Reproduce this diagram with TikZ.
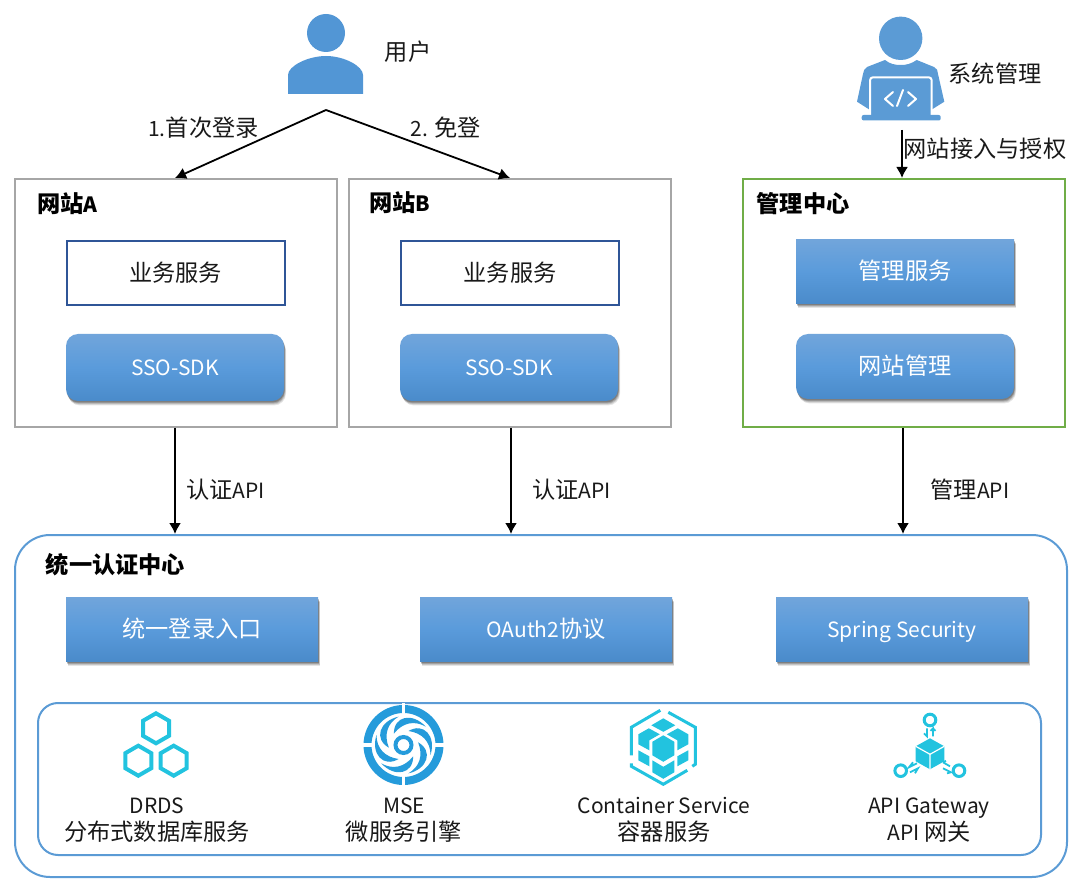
\documentclass[tikz,border=0pt]{standalone}
\usepackage{fontspec}
\setmainfont{Noto Sans CJK SC}
\newfontfamily\cjkf{Noto Sans CJK SC}[Scale=1.105]
\newcommand\cj[1]{{\cjkf #1}}
\usetikzlibrary{arrows.meta,shadows}
\definecolor{iconblue}{HTML}{5296D5}
\definecolor{cyanicon}{HTML}{22C3DF}
\definecolor{mseblue}{HTML}{259BDB}
\definecolor{ringblue}{HTML}{5B9BD5}
\definecolor{sitegray}{HTML}{A6A6A6}
\definecolor{mgrgreen}{HTML}{70AD47}
\definecolor{plainblue}{HTML}{2F5597}
\definecolor{gtop}{HTML}{71A5DB}
\definecolor{gmid}{HTML}{5A9BDB}
\definecolor{gbot}{HTML}{4A8BCA}
\tikzset{
  x=1pt,y=-1pt,
  txt/.style={font=\fontsize{21}{26}\selectfont,inner sep=0pt,text=black!90},
  boldtxt/.style={font=\fontsize{21}{26}\selectfont\bfseries,inner sep=0pt,text=black},
  site/.style={draw=sitegray,line width=2pt,minimum width=322pt,minimum height=248pt,inner sep=0pt},
  mgr/.style={draw=mgrgreen,line width=2pt,minimum width=322pt,minimum height=248pt,inner sep=0pt},
  plain/.style={draw=plainblue,line width=2pt,minimum width=218pt,minimum height=64pt},
  softshadow/.style={
    general shadow={shadow xshift=2pt,shadow yshift=-4.5pt,opacity=.10,fill=black},
    general shadow={shadow xshift=1.5pt,shadow yshift=-3.5pt,opacity=.14,fill=black},
    general shadow={shadow xshift=1pt,shadow yshift=-2.5pt,opacity=.18,fill=black},
    general shadow={shadow xshift=.5pt,shadow yshift=-1.5pt,opacity=.22,fill=black}},
  gbase/.style={softshadow,top color=gtop,bottom color=gbot,middle color=gmid,text=white,
    font=\fontsize{21}{26}\selectfont,text height=20pt,text depth=4pt,inner ysep=0pt},
  arr/.style={line width=1.8pt,-{Latex[length=11pt,width=12pt]}},
}
\begin{document}
\begin{tikzpicture}
\useasboundingbox (0,0) rectangle (1082,890);
% containers
\node[site] (siteA) at (176,303) {};
\node[site] (siteB) at (510,303) {};
\node[mgr] (mgrc) at (904,303) {};
\node[draw=ringblue,line width=2pt,rounded corners=35pt,minimum width=1052pt,minimum height=342pt] (sso) at (541,706) {};
\node[draw=ringblue,line width=2pt,rounded corners=20pt,minimum width=1003pt,minimum height=152pt] (infra) at (539.5,779) {};
% labels
\node[boldtxt] (lA) at (67.5,204) {\cj{网站}A};
\node[boldtxt] (lB) at (400,203) {\cj{网站}B};
\node[boldtxt] (lM) at (803,204) {\cj{管理中心}};
\node[boldtxt] (lS) at (115.5,565) {\cj{统一认证中心}};
% inner boxes
\node[plain,txt] (bizA) at (175.5,273) {\cj{业务服务}};
\node[plain,txt] (bizB) at (510,273) {\cj{业务服务}};
\node[gbase,rounded corners=12pt,minimum width=218pt,minimum height=67pt] (ssoA) at (175,367.5) {SSO-SDK};
\node[gbase,rounded corners=12pt,minimum width=218pt,minimum height=67pt] (ssoB) at (509,367.5) {SSO-SDK};
\node[gbase,minimum width=218pt,minimum height=64pt] (ms) at (905,272) {\cj{管理服务}};
\node[gbase,rounded corners=12pt,minimum width=218pt,minimum height=65pt] (wm) at (905,366.5) {\cj{网站管理}};
\node[gbase,minimum width=252pt,minimum height=64pt] (e1) at (192,629) {\cj{统一登录入口}};
\node[gbase,minimum width=252pt,minimum height=64pt] (e2) at (546,629) {OAuth2\cj{协议}};
\node[gbase,minimum width=252pt,minimum height=64pt] (e3) at (902,629) {Spring Security};
% user icon
\fill[iconblue] (326,33) circle (19);
\fill[iconblue] (288,94) -- (288,75) .. controls (288,66) and (308,56) .. (326,56) .. controls (344,56) and (363,66) .. (363,75) -- (363,94) -- cycle;
\node[txt] (user) at (408,52) {\cj{用户}};
% admin icon
\fill[ringblue] (900.7,38.3) circle (21.7);
\fill[ringblue] (885,60) .. controls (890,64) and (895,65) .. (900.7,65) .. controls (906,65) and (911,64) .. (916.7,60) -- (934,67) .. controls (937,68) and (938,71) .. (938,74) -- (944.3,101.7) -- (931,110) -- (870,110) -- (857,101.7) -- (863,74) .. controls (863,71) and (865,68) .. (867,67) -- cycle;
\fill[ringblue,draw=white,line width=2pt,rounded corners=3pt] (870,77.3) rectangle (931.7,118);
\fill[ringblue,rounded corners=2pt] (861.7,115) rectangle (940.7,120.5);
\draw[white,line width=2pt,line cap=round,line join=round] (893,92) -- (885,99) -- (893,106);
\draw[white,line width=2pt,line cap=round] (903,90) -- (897,106);
\draw[white,line width=2pt,line cap=round,line join=round] (908,92) -- (916,99) -- (908,106);
\node[txt] (admin) at (995,74) {\cj{系统管理}};
% connectors
\coordinate (apex) at (326,110);
\coordinate (adminfoot) at (902,130);
\draw[arr] (apex) -- ([xshift=-1pt]siteA.north);
\draw[arr] (apex) -- (siteB.north);
\draw[arr] (adminfoot) -- (adminfoot |- mgrc.north);
\draw[arr] ([xshift=-1pt]siteA.south) -- ([xshift=-1pt]siteA.south |- sso.north);
\draw[arr] ([xshift=1pt]siteB.south) -- ([xshift=1pt]siteB.south |- sso.north);
\draw[arr] ([xshift=-1pt]mgrc.south) -- ([xshift=-1pt]mgrc.south |- sso.north);
\node[txt] (c1) at (203.5,128) {1.\cj{首次登录}};
\node[txt] (c2) at (445.5,128) {2. \cj{免登}};
\node[txt] (c3) at (985,149) {\cj{网站接入与授权}};
\node[txt] (c4) at (225.5,490) {\cj{认证}API};
\node[txt] (c5) at (571.5,490) {\cj{认证}API};
\node[txt] (c6) at (970,490) {\cj{管理}API};
% bottom texts
\node[txt,align=center] (t1) at (157,820) {DRDS\\[1pt]\cj{分布式数据库服务}};
\node[txt,align=center] (t2) at (404,820) {MSE\\[1pt]\cj{微服务引擎}};
\node[txt,align=center] (t3) at (664,820) {Container Service\\[1pt]\cj{容器服务}};
\node[txt,align=center] (t4) at (929,820) {API Gateway\\[1pt]API \cj{网关}};
% DRDS icon
\foreach \cx/\cy in {156/728.3,138.3/760.7,173.7/760.7}{
  \begin{scope}[shift={(\cx,\cy)}]
  \draw[cyanicon,line width=4pt] (0,-15) -- (13,-7.5) -- (13,7.5) -- (0,15) -- (-13,7.5) -- (-13,-7.5) -- cycle;
  \end{scope}}
% MSE icon
\begin{scope}[shift={(403.5,745)}]
  \draw[mseblue,line width=8pt] (0,0) circle (36);
  \fill[white] (-42,-1.7) rectangle (42,1.7);
  \fill[white] (-1.7,-42) rectangle (1.7,42);
  \draw[mseblue,line width=4pt] (0,0) circle (8);
  \foreach \a in {0,60,...,300}{
    \fill[mseblue,rotate=\a] (5,-14) .. controls (20,-23) and (33,-9) .. (27,10) .. controls (27,-3) and (19,-12) .. (5,-14) -- cycle;
  }
\end{scope}
% Container icon
\begin{scope}[shift={(663.3,745.3)}]
  \draw[cyanicon,line width=3pt] (-3,-35) -- (-32,-18) -- (-32,10);
  \draw[cyanicon,line width=3pt] (-32,18) -- (-32,21) -- (0,39) -- (24,25);
  \draw[cyanicon,line width=3pt] (29,21) -- (32,19) -- (32,-18) -- (5,-33);
  \fill[cyanicon] (0,-10) -- (11,-3.5) -- (11,10) -- (0,16.5) -- (-11,10) -- (-11,-3.5) -- cycle;
  \fill[cyanicon] (0,-27) -- (12,-20) -- (0,-13.5) -- (-12,-20) -- cycle;
  \fill[cyanicon] (-14.5,-17) -- (-3.5,-11) -- (-14,-5) -- (-14,5) -- (-25,-1) -- (-25,-11) -- cycle;
  \fill[cyanicon] (14.5,-17) -- (3.5,-11) -- (14,-5) -- (14,5) -- (25,-1) -- (25,-11) -- cycle;
  \fill[cyanicon] (-25,5) -- (-14,11) -- (-14,21) -- (-25,15) -- cycle;
  \fill[cyanicon] (25,5) -- (14,11) -- (14,21) -- (25,15) -- cycle;
  \fill[cyanicon] (-11,15) -- (0,21.5) -- (11,15) -- (11,27) -- (0,33.5) -- (-11,27) -- cycle;
\end{scope}
% API icon
\begin{scope}[shift={(930,753.3)}]
  \fill[cyanicon] (0,-15) -- (14.3,-7) -- (14.3,8) -- (0,16) -- (-14.3,8) -- (-14.3,-7) -- cycle;
  \draw[white,line width=1.2pt] (-14.3,-7) -- (0,1) -- (14.3,-7) (0,1) -- (0,16);
  \draw[cyanicon,line width=3pt] (0,-33.3) circle (5.8);
  \draw[cyanicon,line width=3pt] (-29.3,17.4) circle (5.8);
  \draw[cyanicon,line width=3pt] (29,17.4) circle (5.8);
  \draw[cyanicon,line width=1.8pt] (-3,-25) -- (-3,-17) -- (-6,-20) (3,-17) -- (3,-25) -- (0.5,-22.5) (3,-25) -- (5.5,-22.5);
  \draw[cyanicon,line width=1.8pt] (-13,10) -- (-21,14) -- (-17,9) (-20,19) -- (-12,15) -- (-15,20);
  \draw[cyanicon,line width=1.8pt] (13,15) -- (21,19) -- (17,20) (13,9) -- (20,13) (13,9) -- (16,7.5);
\end{scope}
\end{tikzpicture}
\end{document}
